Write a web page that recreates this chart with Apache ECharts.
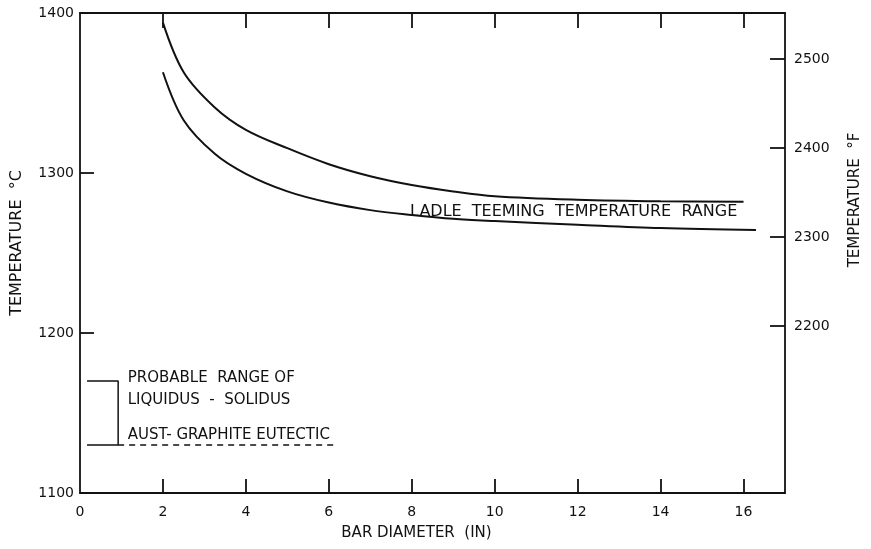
<!DOCTYPE html>
<html><head><meta charset="utf-8">
<script src="https://cdn.jsdelivr.net/npm/echarts@6/dist/echarts.min.js"></script>
<style>html,body{margin:0;padding:0;background:#fff}#c{width:871px;height:549px}</style>
</head><body><div id="c"></div>
<script>
// Bar diameter (in) and temperature (°C)
const upperX = [2, 2.5, 3.25, 4, 5, 6, 7, 8, 9, 10, 12, 14, 16];
const upperT = [1394, 1363, 1341, 1327, 1315.5, 1305.5, 1298, 1292.5, 1288.5, 1285.5, 1283.3, 1282.3, 1282];
const lowerX = [2, 2.5, 3.25, 4, 5, 6, 7, 8, 9, 10, 12, 14, 16.3];
const lowerT = [1363, 1333, 1312, 1299.5, 1288.5, 1281.5, 1276.8, 1273.8, 1271.4, 1270, 1267.7, 1265.6, 1264.4];

// Liquidus–solidus bracket and eutectic line
const bracketX = [0.17, 0.92, 0.92, 0.17];
const bracketT = [1170, 1170, 1130, 1130];
const eutecticX = [0.92, 6.15];
const eutecticT = [1130, 1130];

// Annotations
const noteText = ['PROBABLE  RANGE OF', 'LIQUIDUS  -  SOLIDUS', 'AUST- GRAPHITE EUTECTIC', 'LADLE  TEEMING  TEMPERATURE  RANGE'];
const noteX = [1.15, 1.15, 1.15, 7.96];
const noteT = [1172, 1158, 1136, 1276];

// Tick labels
const xLabelTicks = [0, 2, 4, 6, 8, 10, 12, 14, 16];
const xMarkTicks = [2, 4, 6, 8, 10, 12, 14, 16];
const cTicks = [1100, 1200, 1300, 1400];
const cMarkTicks = [1200, 1300];
const fTicks = [2200, 2300, 2400, 2500];

const c2f = c => c * 9 / 5 + 32;
const FONT = 'DejaVu Sans';
const INK = '#111';
const zip = (xs, ys) => xs.map((x, i) => [x, ys[i]]);
const plain = v => String(v);

const chart = echarts.init(document.getElementById('c'));
const axisLine = { show: true, onZero: false, lineStyle: { color: INK, width: 1.8 } };
const tickStyle = { color: INK, width: 1.8 };
chart.setOption({
  animation: false,
  backgroundColor: '#fff',
  grid: { left: 80, right: 83, top: 13, bottom: 56 },
  xAxis: [
    {
      type: 'value', min: 0, max: 17, position: 'bottom',
      axisLine, splitLine: { show: false },
      axisTick: { show: true, inside: true, length: 14, lineStyle: tickStyle, customValues: xMarkTicks },
      axisLabel: { customValues: xLabelTicks, formatter: plain, color: INK, fontFamily: FONT, fontSize: 14, margin: 12 },
      name: 'BAR DIAMETER  (IN)', nameLocation: 'middle', nameGap: 33,
      nameTextStyle: { color: INK, fontFamily: FONT, fontSize: 15, padding: [0, 32, 0, 0] }
    },
    {
      type: 'value', min: 0, max: 17, position: 'top',
      axisLine, splitLine: { show: false },
      axisTick: { show: true, inside: true, length: 15, lineStyle: tickStyle, customValues: xMarkTicks },
      axisLabel: { show: false }
    }
  ],
  yAxis: [
    {
      type: 'value', min: 1100, max: 1400, interval: 100, position: 'left',
      axisLine, splitLine: { show: false },
      axisTick: { show: true, inside: true, length: 14, lineStyle: tickStyle, customValues: cMarkTicks },
      axisLabel: { customValues: cTicks, formatter: plain, color: INK, fontFamily: FONT, fontSize: 14, margin: 6 },
      name: 'TEMPERATURE  °C', nameLocation: 'middle', nameGap: 55, nameRotate: 90,
      nameTextStyle: { color: INK, fontFamily: FONT, fontSize: 16, padding: [0, 0, 0, 20] }
    },
    {
      type: 'value', min: c2f(1100), max: c2f(1400), position: 'right',
      axisLine, splitLine: { show: false },
      axisTick: { show: true, inside: true, length: 15, lineStyle: tickStyle, customValues: fTicks },
      axisLabel: { customValues: fTicks, formatter: plain, color: INK, fontFamily: FONT, fontSize: 14, margin: 9 },
      name: 'TEMPERATURE  °F', nameLocation: 'middle', nameGap: 63, nameRotate: 90,
      nameTextStyle: { color: INK, fontFamily: FONT, fontSize: 15, padding: [0, 0, 0, 106] }
    }
  ],
  series: [
    { type: 'line', data: zip(upperX, upperT), smooth: 0.35, showSymbol: false, lineStyle: { color: INK, width: 2 } },
    { type: 'line', data: zip(lowerX, lowerT), smooth: 0.35, showSymbol: false, lineStyle: { color: INK, width: 2 } },
    { type: 'line', data: zip(bracketX, bracketT), showSymbol: false, lineStyle: { color: INK, width: 1.5 } },
    { type: 'line', data: zip(eutecticX, eutecticT), showSymbol: false, lineStyle: { color: INK, width: 1.3, type: [6, 5] } },
    {
      type: 'scatter', symbolSize: 0, itemStyle: { opacity: 1 },
      data: noteText.map((t, i) => ({ name: t, value: [noteX[i], noteT[i]], label: { fontSize: i === 3 ? 16 : 15 } })),
      label: { show: true, position: 'inside', align: 'left', verticalAlign: 'middle', formatter: p => p.name,
        color: INK, fontFamily: FONT, fontSize: 15 }
    }
  ]
});
</script></body></html>
